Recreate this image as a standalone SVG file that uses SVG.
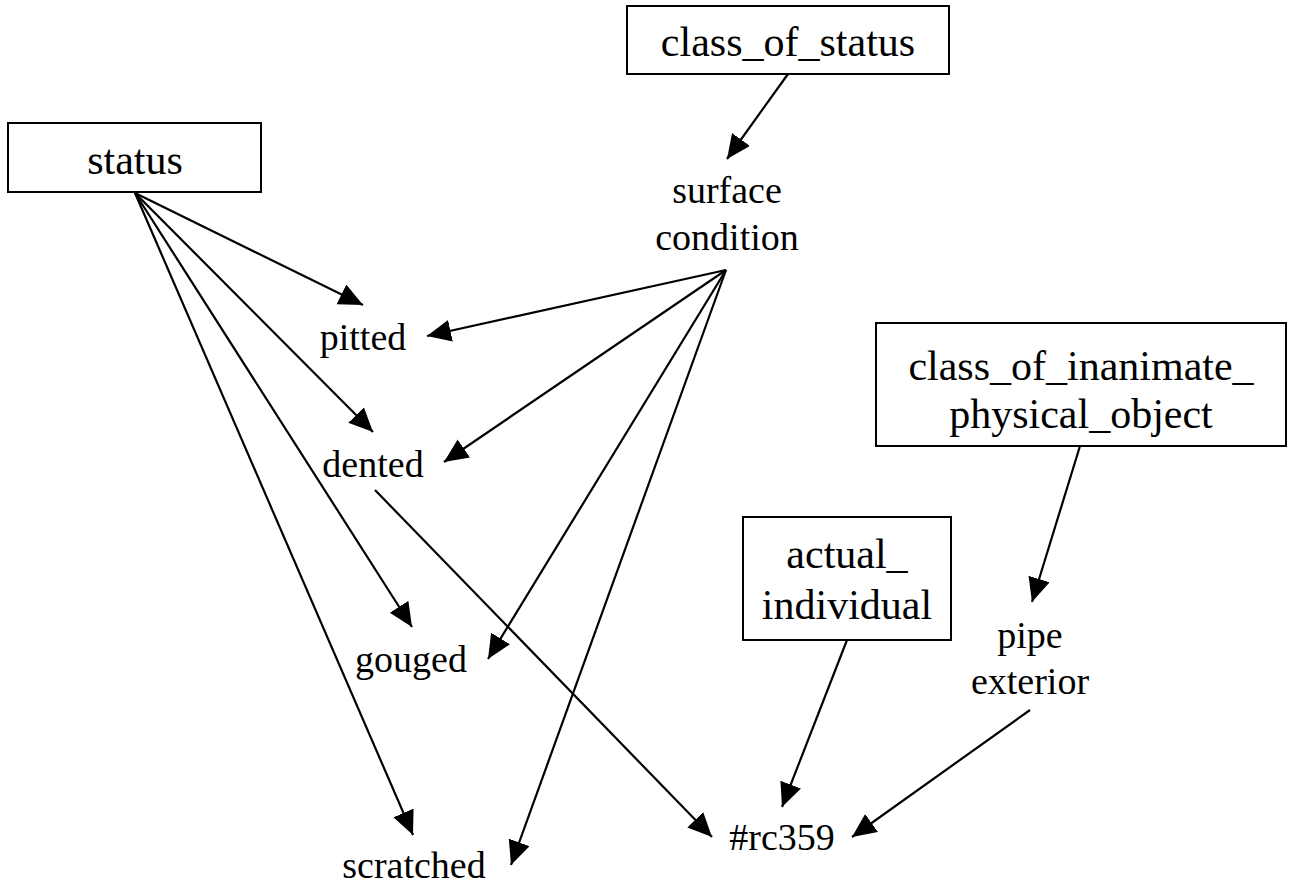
<svg xmlns="http://www.w3.org/2000/svg" width="1294" height="890" viewBox="0 0 1294 890">
<style>
.box{fill:#fff;stroke:#000;stroke-width:2}
.bt{font-family:"Liberation Serif","Times New Roman",serif;font-size:42px;text-anchor:middle;fill:#000}
.lt{font-family:"Liberation Serif","Times New Roman",serif;font-size:38px;text-anchor:middle;fill:#000}
.e{stroke:#000;stroke-width:2.2;fill:none;marker-end:url(#ah)}
</style>
<defs>
<marker id="ah" markerUnits="userSpaceOnUse" markerWidth="26" markerHeight="24" refX="24" refY="11" orient="auto" viewBox="0 0 26 24">
<path d="M0,0 L24,11 L0,22 Z" fill="#000"/>
</marker>
</defs>
<rect width="1294" height="890" fill="#fff"/>
<g id="connectors">
<line class="e" x1="135" y1="193" x2="363" y2="305"/>
<line class="e" x1="135" y1="193" x2="373" y2="432"/>
<line class="e" x1="135" y1="193" x2="412" y2="627"/>
<line class="e" x1="135" y1="193" x2="413" y2="835"/>
<line class="e" x1="788" y1="74" x2="727" y2="159"/>
<line class="e" x1="726" y1="270" x2="427" y2="336"/>
<line class="e" x1="726" y1="270" x2="444" y2="462"/>
<line class="e" x1="726" y1="270" x2="488" y2="659"/>
<line class="e" x1="726" y1="270" x2="511" y2="865"/>
<line class="e" x1="375" y1="490" x2="712" y2="837"/>
<line class="e" x1="847" y1="640" x2="782" y2="807"/>
<line class="e" x1="1030" y1="710" x2="852" y2="837"/>
<line class="e" x1="1080" y1="446" x2="1032" y2="602"/>
</g>
<g id="status">
<rect class="box" x="8" y="123" width="253" height="69"/>
<text class="bt" x="135" y="174">status</text>
</g>
<g id="class_of_status">
<rect class="box" x="627" y="6" width="322" height="68"/>
<text class="bt" x="788" y="56">class_of_status</text>
</g>
<g id="surface_condition">
<text class="lt" x="727" y="203">surface</text>
<text class="lt" x="727" y="250">condition</text>
</g>
<g id="pitted">
<text class="lt" x="363" y="350">pitted</text>
</g>
<g id="dented">
<text class="lt" x="373" y="477">dented</text>
</g>
<g id="gouged">
<text class="lt" x="411" y="672">gouged</text>
</g>
<g id="scratched">
<text class="lt" x="414" y="878">scratched</text>
</g>
<g id="class_of_inanimate_physical_object">
<rect class="box" x="876" y="323" width="410" height="123"/>
<text class="bt" x="1081" y="380">class_of_inanimate_</text>
<text class="bt" x="1081" y="428">physical_object</text>
</g>
<g id="actual_individual">
<rect class="box" x="743" y="517" width="208" height="123"/>
<text class="bt" x="847" y="568">actual_</text>
<text class="bt" x="847" y="619">individual</text>
</g>
<g id="pipe_exterior">
<text class="lt" x="1030" y="648">pipe</text>
<text class="lt" x="1030" y="694">exterior</text>
</g>
<g id="rc359">
<text class="lt" x="782" y="850">#rc359</text>
</g>
</svg>
